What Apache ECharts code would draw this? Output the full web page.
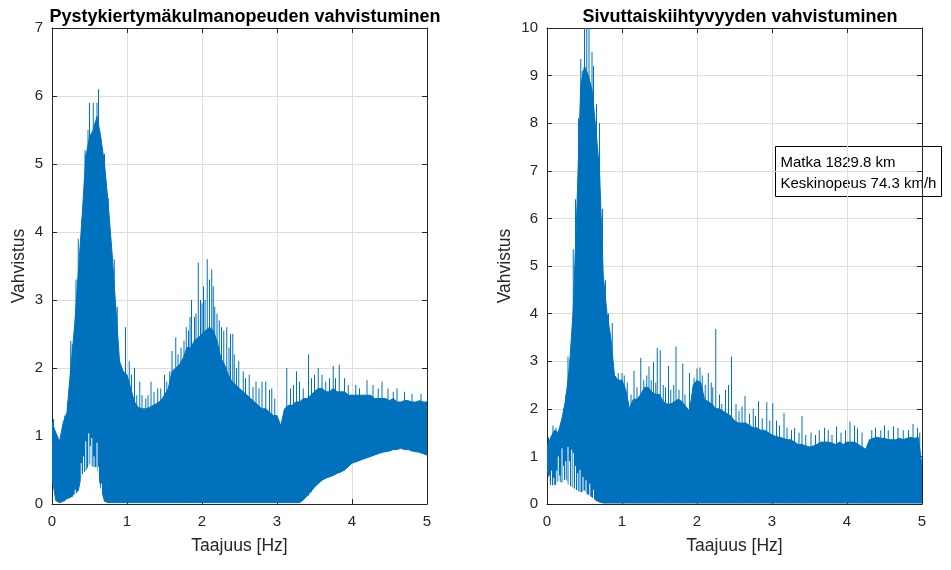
<!DOCTYPE html>
<html><head><meta charset="utf-8">
<script src="https://cdn.jsdelivr.net/npm/echarts@6/dist/echarts.min.js"></script>
<style>html,body{margin:0;padding:0;background:#fff}#c{width:951px;height:570px}</style>
</head><body><div id="c"></div>
<script>
// ---------- data ----------
const TITLE_LEFT = 'Pystykiertymäkulmanopeuden vahvistuminen';
const TITLE_RIGHT = 'Sivuttaiskiihtyvyyden vahvistuminen';
const X_NAME = 'Taajuus [Hz]';
const Y_NAME = 'Vahvistus';
const NOTE_LINES = ['Matka 1829.8 km', 'Keskinopeus 74.3 km/h'];
const X_TICKS = [0, 1, 2, 3, 4, 5];
const Y_TICKS_LEFT = [0, 1, 2, 3, 4, 5, 6, 7];
const Y_TICKS_RIGHT = [0, 1, 2, 3, 4, 5, 6, 7, 8, 9, 10];

// sample frequencies 0.00 ... 5.00 Hz, step 0.05
const FREQ = Array.from({length: 101}, (_, i) => Math.round(i * 5) / 100);

// left plot: upper / lower envelope of the dense gain curve
const L_UP = [
  1.2,1.05,0.92,1.2,1.35,2.0,2.6,3.4,4.2,5.1,
  5.4,5.5,5.7,5.4,5.0,4.4,3.7,2.9,2.1,1.95,
  1.9,1.7,1.5,1.42,1.4,1.4,1.42,1.45,1.48,1.52,
  1.6,1.7,1.95,2.0,2.05,2.15,2.3,2.3,2.4,2.45,
  2.5,2.55,2.6,2.55,2.4,2.15,2.05,1.9,1.8,1.75,
  1.7,1.65,1.6,1.55,1.5,1.45,1.4,1.4,1.35,1.3,
  1.3,1.15,1.4,1.45,1.45,1.5,1.5,1.55,1.55,1.6,
  1.65,1.7,1.7,1.65,1.65,1.7,1.65,1.65,1.65,1.6,
  1.6,1.6,1.6,1.6,1.6,1.6,1.55,1.55,1.55,1.55,
  1.52,1.55,1.5,1.5,1.52,1.52,1.5,1.5,1.52,1.5,
  1.5];
const L_LO = [
  0.4,0.05,0.02,0.04,0.08,0.1,0.15,0.2,0.45,0.5,
  0.6,0.55,0.55,0.25,0.04,0.02,0.02,0.02,0.02,0.02,
  0.02,0.02,0.02,0.02,0.02,0.02,0.02,0.02,0.02,0.02,
  0.02,0.02,0.02,0.02,0.02,0.02,0.02,0.02,0.02,0.02,
  0.02,0.02,0.02,0.02,0.02,0.02,0.02,0.02,0.02,0.02,
  0.02,0.02,0.02,0.02,0.02,0.02,0.02,0.02,0.02,0.02,
  0.02,0.02,0.02,0.02,0.02,0.02,0.02,0.06,0.12,0.18,
  0.25,0.3,0.35,0.38,0.4,0.42,0.45,0.47,0.5,0.55,
  0.6,0.62,0.64,0.66,0.68,0.7,0.72,0.74,0.76,0.77,
  0.78,0.8,0.8,0.82,0.8,0.8,0.78,0.77,0.76,0.74,
  0.72];
// upward spikes above the envelope [Hz, gain]
const L_SPIKES = [
  [0.02,1.25],[0.17,1.3],[0.21,1.5],[0.23,1.45],
  [0.25,2.4],[0.27,2.35],[0.30,2.6],[0.32,3.3],[0.35,3.9],[0.38,3.8],[0.40,4.2],[0.42,4.4],
  [0.44,5.2],[0.45,5.15],[0.46,5.0],[0.48,5.5],[0.50,5.9],[0.52,5.3],[0.53,5.4],[0.55,5.9],
  [0.57,5.6],[0.60,5.9],[0.62,6.1],[0.66,5.2],[0.70,5.15],[0.72,4.6],
  [0.75,4.5],[0.78,3.6],[0.83,3.6],[0.87,2.9],[0.98,2.6],[1.03,2.1],[1.06,1.9],[1.10,2.0],
  [1.13,1.6],[1.17,1.8],[1.20,1.6],[1.25,1.55],[1.28,1.6],[1.32,1.8],[1.36,1.65],[1.41,1.7],
  [1.45,1.7],[1.50,1.9],[1.53,1.8],[1.57,1.95],[1.60,2.25],[1.65,2.45],[1.68,2.2],[1.72,2.3],
  [1.76,2.4],[1.79,2.6],[1.82,2.55],[1.84,2.75],[1.86,3.0],[1.90,2.75],[1.92,2.8],[1.95,3.55],
  [1.98,3.0],[2.00,2.95],[2.02,3.2],[2.04,3.0],[2.07,3.6],[2.10,3.3],[2.13,3.45],[2.15,3.2],
  [2.17,2.9],[2.20,2.8],[2.23,2.7],[2.26,2.6],[2.29,2.55],[2.33,2.6],[2.36,2.3],[2.38,2.5],
  [2.41,2.5],[2.43,2.2],[2.46,2.0],[2.49,2.1],[2.55,1.95],[2.58,1.85],[2.63,1.9],[2.68,1.72],
  [2.72,1.8],[2.76,1.7],[2.80,1.8],[2.85,1.8],[2.90,1.68],[2.93,1.7],[2.97,1.55],
  [3.13,2.0],[3.18,1.7],[3.22,1.75],[3.26,1.95],[3.30,1.8],[3.35,1.7],[3.42,2.2],[3.46,1.85],
  [3.50,1.9],[3.55,2.0],[3.60,1.9],[3.65,1.8],[3.70,1.85],[3.75,2.03],[3.78,1.85],[3.83,2.05],
  [3.90,1.85],[3.95,1.75],[4.05,1.75],[4.10,1.7],[4.20,1.82],[4.28,1.75],[4.35,1.7],[4.40,1.8],
  [4.48,1.7],[4.55,1.65],[4.60,1.7],[4.70,1.65],[4.80,1.62],[4.92,1.62]];
// downward gaps (white) reaching up from the axis [Hz, gain]
const L_DIPS = [
  [0.31,0.21],[0.39,0.6],[0.42,0.7],[0.45,0.92],[0.49,1.04],[0.51,0.85],[0.53,0.97],
  [0.56,0.7],[0.60,0.9],[0.62,0.55],[0.66,0.3]];

// right plot
const R_UP = [
  1.2,1.4,1.55,1.5,1.8,2.2,2.9,4.1,6.3,8.8,
  9.2,9.0,8.7,7.9,7.0,4.8,4.0,3.5,2.7,2.6,
  2.6,2.4,2.0,2.2,2.2,2.3,2.45,2.45,2.35,2.3,
  2.3,2.15,2.1,2.1,2.15,2.2,2.15,2.05,1.95,2.5,
  2.6,2.55,2.2,2.15,2.1,2.0,2.0,1.95,1.9,1.85,
  1.75,1.7,1.7,1.7,1.65,1.6,1.6,1.55,1.55,1.5,
  1.45,1.42,1.4,1.38,1.35,1.35,1.3,1.25,1.25,1.22,
  1.2,1.22,1.25,1.3,1.3,1.3,1.28,1.25,1.3,1.25,
  1.3,1.3,1.3,1.25,1.2,1.15,1.35,1.38,1.4,1.38,
  1.38,1.35,1.35,1.35,1.38,1.35,1.38,1.4,1.38,1.4,
  0.8];
const R_LO = [
  0.75,0.4,0.4,0.5,0.45,0.55,0.4,0.35,0.3,0.25,
  0.3,0.2,0.15,0.08,0.04,0.02,0.02,0.02,0.02,0.02,
  0.02,0.02,0.02,0.02,0.02,0.02,0.02,0.02,0.02,0.02,
  0.02,0.02,0.02,0.02,0.02,0.02,0.02,0.02,0.02,0.02,
  0.02,0.02,0.02,0.02,0.02,0.02,0.02,0.02,0.02,0.02,
  0.02,0.02,0.02,0.02,0.02,0.02,0.02,0.02,0.02,0.02,
  0.02,0.02,0.02,0.02,0.02,0.02,0.02,0.02,0.02,0.02,
  0.02,0.02,0.02,0.02,0.02,0.02,0.02,0.02,0.02,0.02,
  0.02,0.02,0.02,0.02,0.02,0.02,0.02,0.02,0.02,0.02,
  0.02,0.02,0.02,0.02,0.02,0.02,0.02,0.02,0.02,0.02,
  0.02];
const R_SPIKES = [
  [0.02,1.4],[0.08,1.65],[0.12,1.6],[0.22,2.0],[0.25,2.3],
  [0.28,3.1],[0.31,3.0],[0.33,3.3],[0.35,5.35],[0.38,6.4],[0.42,8.1],[0.45,9.35],[0.47,9.1],[0.50,10.5],[0.53,10.2],
  [0.56,10.5],[0.60,9.5],[0.62,9.2],[0.66,8.4],[0.70,8.0],[0.74,6.2],[0.78,4.7],[0.82,4.0],
  [0.87,3.8],[0.95,2.75],[1.00,2.75],[1.03,2.7],[1.07,2.55],[1.12,2.3],[1.16,2.8],[1.20,2.45],
  [1.25,3.07],[1.29,2.6],[1.33,2.7],[1.36,2.89],[1.39,2.6],[1.42,2.98],[1.45,2.55],[1.47,3.28],
  [1.51,3.23],[1.55,2.5],[1.58,2.45],[1.62,2.9],[1.65,2.4],[1.69,2.5],[1.72,3.31],[1.76,2.4],
  [1.81,2.95],[1.84,2.3],[1.90,2.75],[1.96,2.65],[2.00,2.85],[2.04,2.87],[2.07,2.7],[2.11,2.5],
  [2.15,2.75],[2.19,2.55],[2.21,2.45],[2.25,3.68],[2.30,2.3],[2.33,2.1],[2.38,2.4],[2.42,2.5],
  [2.46,3.1],[2.52,2.1],[2.56,1.95],[2.60,2.05],[2.64,2.27],[2.70,1.9],[2.75,2.0],[2.78,1.85],
  [2.82,2.16],[2.87,1.8],[2.93,2.14],[2.97,1.75],[3.01,2.12],[3.06,1.75],[3.10,1.65],[3.16,1.91],
  [3.20,1.6],[3.26,1.55],[3.30,1.6],[3.36,1.5],[3.40,1.85],[3.45,1.45],[3.52,1.5],[3.58,1.45],
  [3.63,1.55],[3.70,1.6],[3.75,1.55],[3.80,1.45],[3.86,1.63],[3.92,1.5],[3.98,1.55],[4.04,1.73],
  [4.10,1.65],[4.14,1.59],[4.20,1.5],[4.33,1.55],[4.38,1.6],[4.45,1.55],[4.50,1.65],[4.55,1.55],
  [4.62,1.63],[4.68,1.6],[4.75,1.55],[4.82,1.55],[4.88,1.68],[4.94,1.6],[4.97,1.5]];
const R_DIPS = [
  [0.03,0.6],[0.06,0.7],[0.08,0.4],[0.09,0.55],[0.13,0.7],[0.15,1.0],[0.17,0.6],[0.20,1.17],
  [0.22,0.8],[0.25,0.9],[0.28,1.2],[0.30,0.9],[0.33,1.14],[0.35,1.07],[0.38,0.8],[0.41,0.65],
  [0.44,0.72],[0.48,0.57],[0.52,0.5],[0.57,0.43],[0.62,0.3]];

// ---------- styling ----------
const BLUE = '#0072BD';
const INK = '#262626';
const GRIDC = '#dedede';
const FONT = '"Liberation Sans", Arial, Helvetica, sans-serif';

const chart = echarts.init(document.getElementById('c'), null, {renderer: 'canvas'});

function mainX(gi) {
  return {type: 'value', gridIndex: gi, position: 'bottom', min: X_TICKS[0], max: X_TICKS[X_TICKS.length-1], interval: 1,
    name: X_NAME, nameLocation: 'middle', nameGap: 33,
    nameTextStyle: {fontFamily: FONT, fontSize: 17.5, color: INK},
    axisLine: {show: true, onZero: false, lineStyle: {color: INK, width: 1}},
    axisTick: {show: true, inside: true, length: 5, lineStyle: {color: INK}},
    axisLabel: {show: true, margin: 10, fontFamily: FONT, fontSize: 15, color: INK},
    splitLine: {show: true, lineStyle: {color: GRIDC, width: 1}}};
}
function topX(gi) {
  return {type: 'value', gridIndex: gi, position: 'top', min: X_TICKS[0], max: X_TICKS[X_TICKS.length-1], interval: 1,
    axisLine: {show: true, onZero: false, lineStyle: {color: INK, width: 1}},
    axisTick: {show: true, inside: true, length: 5, lineStyle: {color: INK}},
    axisLabel: {show: false}, splitLine: {show: false}};
}
function mainY(gi, ticks, gap) {
  return {type: 'value', gridIndex: gi, position: 'left', min: ticks[0], max: ticks[ticks.length-1], interval: 1,
    name: Y_NAME, nameLocation: 'middle', nameGap: gap,
    nameTextStyle: {fontFamily: FONT, fontSize: 17.5, color: INK},
    axisLine: {show: true, onZero: false, lineStyle: {color: INK, width: 1}},
    axisTick: {show: true, inside: true, length: 5, lineStyle: {color: INK}},
    axisLabel: {show: true, margin: 9, fontFamily: FONT, fontSize: 15, color: INK},
    splitLine: {show: true, lineStyle: {color: GRIDC, width: 1}}};
}
function rightY(gi, ticks) {
  return {type: 'value', gridIndex: gi, position: 'right', min: ticks[0], max: ticks[ticks.length-1], interval: 1,
    axisLine: {show: true, onZero: false, lineStyle: {color: INK, width: 1}},
    axisTick: {show: true, inside: true, length: 5, lineStyle: {color: INK}},
    axisLabel: {show: false}, splitLine: {show: false}};
}

// filled band between lower and upper envelope, one polygon through the axis scales
function bandSeries(xi, yi, up, lo) {
  return {type: 'custom', xAxisIndex: xi, yAxisIndex: yi, clip: true, silent: true, z: 3,
    data: FREQ.map((f, i) => [f, up[i], lo[i]]),
    renderItem: function (params, api) {
      if (params.dataIndex !== 0) return null;
      const pts = [];
      for (let i = 0; i < FREQ.length; i++) pts.push(api.coord([FREQ[i], up[i]]));
      for (let i = FREQ.length - 1; i >= 0; i--) pts.push(api.coord([FREQ[i], lo[i]]));
      return {type: 'polygon', shape: {points: pts}, style: {fill: BLUE, stroke: BLUE, lineWidth: 1}};
    }};
}
function spikeSeries(xi, yi, spikes, lo) {
  return {type: 'custom', xAxisIndex: xi, yAxisIndex: yi, clip: true, silent: true, z: 4,
    data: spikes,
    renderItem: function (params, api) {
      const x = api.value(0), top = api.value(1);
      const idx = Math.min(FREQ.length - 1, Math.max(0, Math.round(x / 0.05)));
      const p1 = api.coord([x, top]);
      const p0 = api.coord([x, lo[idx]]);
      return {type: 'line', shape: {x1: p0[0], y1: p0[1], x2: p1[0], y2: p1[1]}, style: {stroke: BLUE, lineWidth: 1}};
    }};
}
function dipSeries(xi, yi, dips) {
  return {type: 'custom', xAxisIndex: xi, yAxisIndex: yi, clip: true, silent: true, z: 5,
    data: dips,
    renderItem: function (params, api) {
      const x = api.value(0), v = api.value(1);
      const p0 = api.coord([x, 0]);
      const p1 = api.coord([x, v]);
      return {type: 'line', shape: {x1: p0[0], y1: p0[1] - 1, x2: p1[0], y2: p1[1]}, style: {stroke: '#ffffff', lineWidth: 1}};
    }};
}

const option = {
  animation: false,
  backgroundColor: '#ffffff',
  title: [
    {text: TITLE_LEFT, left: 240, top: 3, textAlign: 'center', textStyle: {fontFamily: FONT, fontSize: 18, fontWeight: 'bold', color: '#000'}},
    {text: TITLE_RIGHT, left: 735, top: 3, textAlign: 'center', textStyle: {fontFamily: FONT, fontSize: 18, fontWeight: 'bold', color: '#000'}}
  ],
  grid: [
    {left: 52, top: 28, width: 375, height: 476, containLabel: false},
    {left: 547, top: 28, width: 375, height: 476, containLabel: false}
  ],
  xAxis: [mainX(0), topX(0), mainX(1), topX(1)],
  yAxis: [mainY(0, Y_TICKS_LEFT, 23.5), rightY(0, Y_TICKS_LEFT), mainY(1, Y_TICKS_RIGHT, 33), rightY(1, Y_TICKS_RIGHT)],
  series: [
    bandSeries(0, 0, L_UP, L_LO), spikeSeries(0, 0, L_SPIKES, L_LO), dipSeries(0, 0, L_DIPS),
    bandSeries(2, 2, R_UP, R_LO), spikeSeries(2, 2, R_SPIKES, R_LO), dipSeries(2, 2, R_DIPS)
  ],
  graphic: [
    {type: 'group', left: 775, top: 146, z: 100, children: [
      {type: 'rect', shape: {x: 0, y: 0, width: 166, height: 50}, style: {fill: '#ffffff', stroke: '#000000', lineWidth: 1}},
      {type: 'text', x: 5, y: 6, style: {text: NOTE_LINES.join('\n'), font: '15px ' + FONT, fill: '#000000', lineHeight: 21}}
    ]}
  ]
};
chart.setOption(option);
</script>
</body></html>
